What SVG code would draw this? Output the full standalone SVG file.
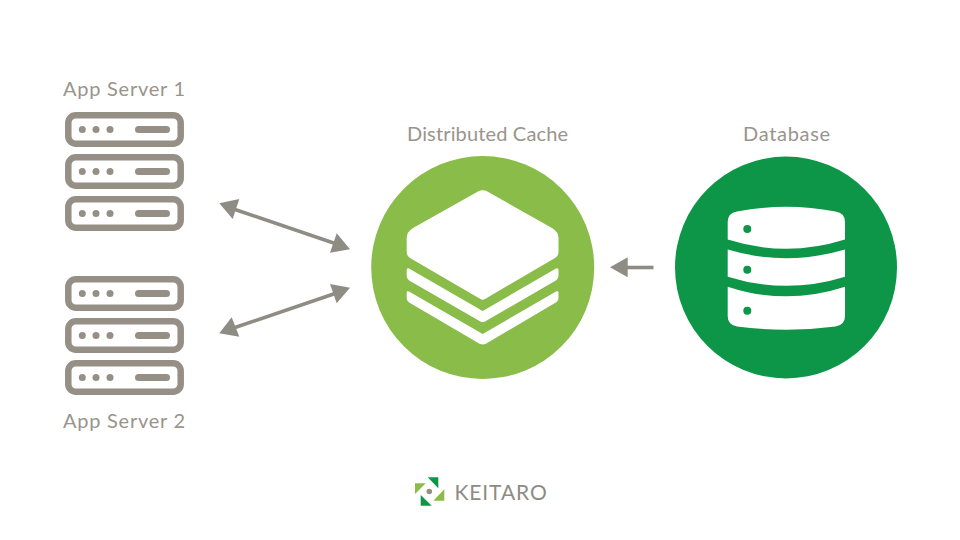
<svg xmlns="http://www.w3.org/2000/svg" width="960" height="540" viewBox="0 0 960 540">
<defs>
<style>
text{font-family:"Lato","Liberation Sans",sans-serif;fill:#99948c;font-size:20px}
.frame{fill:none;stroke:#958f86;stroke-width:6.500}
.mark{fill:#958f86}
.arrow{fill:#8f8c83}
.line{stroke:#8f8c83;stroke-width:3.600;fill:none}
.w{fill:#fff}
</style>
<g id="unit">
<rect class="frame" x="68.300" y="115.300" width="112.400" height="28.400" rx="7.500"/>
<circle class="mark" cx="82.300" cy="129.500" r="3.500"/>
<circle class="mark" cx="96" cy="129.500" r="3.500"/>
<circle class="mark" cx="110" cy="129.500" r="3.500"/>
<rect class="mark" x="135" y="126" width="35" height="7" rx="3.500"/>
</g>
</defs>
<rect width="960" height="540" fill="#fff"/>
<g id="app-server-1">
<text x="63" y="96" style="letter-spacing:.75px">App Server 1</text>
<use href="#unit"/>
<use href="#unit" y="42"/>
<use href="#unit" y="84"/>
</g>
<g id="app-server-2">
<use href="#unit" y="164"/>
<use href="#unit" y="206"/>
<use href="#unit" y="248"/>
<text x="63" y="428" style="letter-spacing:.75px">App Server 2</text>
</g>
<g id="distributed-cache">
<text x="407" y="141" style="letter-spacing:.15px">Distributed Cache</text>
<circle cx="482.700" cy="267.500" r="111.500" fill="#8abc49"/>
<path class="w" d="M478 191.500Q482.700 189 487.400 191.500L552 228Q558.500 232 558.500 238V252Q558.500 256 555 258L485 299Q482.700 300.500 480.400 299L410 258Q406.700 256 406.700 252V238Q406.700 232 413 228Z"/>
<path class="w" d="M406.700 270Q406.700 267.500 409 268.500L482.700 311L556 268.500Q558.500 267.500 558.500 270V275Q558.500 279 555 281L485 321.500Q482.700 323 480.400 321.500L410 281Q406.700 279 406.700 275Z"/>
<path class="w" d="M406.700 292.500Q406.700 290.500 409 291.500L482.700 334L556 291.500Q558.500 290.500 558.500 292.500V298Q558.500 301 555 303L488 342.500Q482.700 346.500 477.400 342.500L410 303Q406.700 301 406.700 298Z"/>
</g>
<g id="database">
<text x="743" y="141" style="letter-spacing:.7px">Database</text>
<circle cx="786" cy="267.500" r="111" fill="#0d9648"/>
<path class="w" d="M727.700 239.500V222Q727.700 213 737 211.500Q786 202 835.500 211.500Q845 213 845 222V239.500Q786 258 727.700 239.500Z"/>
<path class="w" d="M727.700 249.500Q786 267 845 249.500V276.700Q786 295 727.700 276.700Z"/>
<path class="w" d="M727.700 286.700Q786 306 845 286.700V316Q845 325 835.500 326.500Q786 333 737 326.500Q727.700 325 727.700 316Z"/>
<circle cx="747.300" cy="229" r="4" fill="#0d9648"/>
<circle cx="747.300" cy="269.700" r="4" fill="#0d9648"/>
<circle cx="747.300" cy="310.700" r="4" fill="#0d9648"/>
</g>
<g id="connectors">
<line class="line" x1="232" y1="208.500" x2="338" y2="244.500"/>
<polygon class="arrow" points="219.300,203.300 239.300,199 232.700,219"/>
<polygon class="arrow" points="350,249.300 336.700,233.300 330,252.700"/>
<line class="line" x1="232" y1="328.500" x2="338" y2="292.500"/>
<polygon class="arrow" points="219.300,333.300 231.700,317.300 239.300,336.700"/>
<polygon class="arrow" points="350,287.700 330,284 336.700,303.300"/>
<line class="line" x1="625" y1="267.500" x2="653.500" y2="267.500"/>
<polygon class="arrow" points="610,267.300 627.700,257.300 627.700,277.300"/>
</g>
<g id="keitaro-logo">
<polygon points="427.700,477.300 438.300,477.300 438.300,488.300" fill="#0d9648"/>
<polygon points="415,483.300 425.700,483.300 415,494" fill="#8abc49"/>
<polygon points="444.300,489.300 444.300,500.700 433.300,500.700" fill="#8abc49"/>
<polygon points="420.700,495 431.700,505.700 420.700,505.700" fill="#0d9648"/>
<circle cx="429.300" cy="491.500" r="2.800" fill="#958f86"/>
<text x="454.500" y="499.500" style="font-size:21px;letter-spacing:.9px;fill:#8f8b84">KEITARO</text>
</g>
</svg>
